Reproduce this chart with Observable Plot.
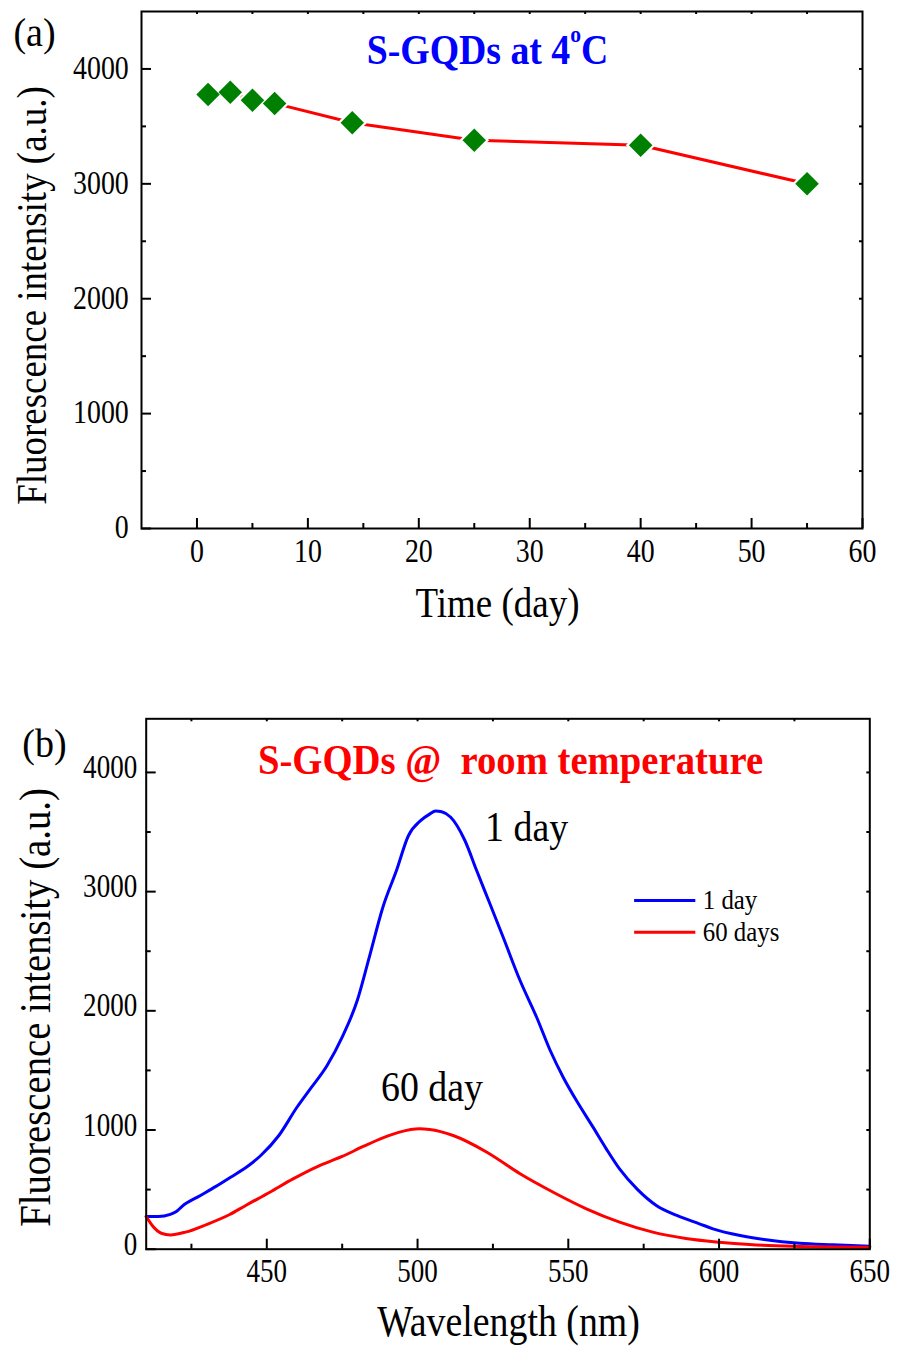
<!DOCTYPE html>
<html><head><meta charset="utf-8">
<script src="https://cdn.jsdelivr.net/npm/d3@7"></script>
<script src="https://cdn.jsdelivr.net/npm/@observablehq/plot@0.6"></script>
<style>
html,body{margin:0;padding:0;background:#fff;}
#chart svg{display:block;}
</style></head><body><div id="chart"></div>
<script>
// ---------- Panel (a): S-GQDs at 4 oC ----------
const days = [1, 3, 5, 7, 14, 25, 40, 55];
const intensityA = [3778, 3798, 3728, 3700, 3531, 3380, 3336, 3000];
const xMajorA = [0, 10, 20, 30, 40, 50, 60];
const xMinorA = [5, 15, 25, 35, 45, 55];
const yMajorA = [0, 1000, 2000, 3000, 4000];
const yMinorA = [500, 1500, 2500, 3500];
const titleA = ["S-GQDs at 4", "o", "C"];
const panelA = "(a)";
const xLabelA = "Time (day)";
const yLabel = "Fluorescence intensity (a.u.)";

// ---------- Panel (b): S-GQDs @ room temperature ----------
const wl1 = [410, 414, 418, 420, 422, 428, 433, 438, 444, 448, 454, 460, 464, 470, 475, 480, 484, 488.5, 493, 497, 501, 504, 506, 508, 511, 515.7, 519.6, 524, 528.4, 534, 539.5, 544, 548.3, 552.7, 558.2, 562.6, 567, 573, 579.2, 586, 593.5, 598, 607, 615.6, 626.7, 637.7, 650];
const int1 = [274, 274, 292, 316, 362, 451, 525, 604, 702, 786, 954, 1191, 1331, 1541, 1779, 2086, 2450, 2869, 3177, 3471, 3595, 3650, 3676, 3670, 3624, 3429, 3177, 2898, 2617, 2254, 1946, 1667, 1443, 1247, 1024, 842, 674, 500, 367, 283, 213, 171, 115, 79, 50, 37, 25];
const wl60 = [410, 412, 415, 418, 423, 430, 437.7, 443, 451, 458.7, 467.5, 475, 482, 488.5, 494, 500.6, 504, 511.8, 523, 534, 545, 556, 567, 578, 589, 600, 610, 624.4, 650];
const int60 = [274, 199, 134, 120, 143, 207, 291, 367, 478, 590, 702, 778, 862, 934, 982, 1010, 1004, 954, 814, 633, 478, 339, 227, 143, 90, 59, 39, 25, 17];
const xMajorB = [450, 500, 550, 600, 650];
const xMinorB = [425, 475, 525, 575, 625];
const yMajorB = [0, 1000, 2000, 3000, 4000];
const yMinorB = [500, 1500, 2500, 3500];
const titleB = "S-GQDs @\u00a0 room temperature";
const panelB = "(b)";
const xLabelB = "Wavelength (nm)";
const seriesNames = ["1 day", "60 days"];
const seriesColors = ["#0000ff", "#ff0000"];
const annoText = ["1 day", "60 day"];
const annoX = [522.4, 487.9];
const annoY = [3538, 1359];
// legend placement (in data units of panel b)
const legendX = [572, 592.3, 594.6];
const legendY = [2925, 2659];

const FONT = "'Liberation Serif', 'Times New Roman', serif";
const W = 898;
const tag = name => ({ariaLabel: () => name, ariaDescription: name});

// ---------- build panel (a) ----------
const dataA = days.map((d, i) => ({day: d, value: intensityA[i]}));
const hA = 650, mtA = 11, mbA = 122, mlA = 141, mrA = 36;
const fhA = hA - mtA - mbA, fwA = W - mlA - mrA;

const plotA = Plot.plot({
  width: W, height: hA,
  marginTop: mtA, marginBottom: mbA, marginLeft: mlA, marginRight: mrA,
  style: {fontFamily: FONT, background: "white", overflow: "visible"},
  x: {domain: [-5, 60], axis: null},
  y: {domain: [0, 4500], axis: null},
  marks: [
    Plot.line(dataA, {x: "day", y: "value", stroke: "#ff0000", strokeWidth: 3}),
    Plot.dot(dataA, {x: "day", y: "value", symbol: "diamond2", r: 13.4, fill: "white", stroke: "none"}),
    Plot.dot(dataA, {x: "day", y: "value", symbol: "diamond2", r: 10.6, fill: "#008000", stroke: "none"}),
    Plot.frame({stroke: "black", strokeWidth: 2}),
    Plot.tickX(xMajorA, {x: d => d, stroke: "black", strokeWidth: 2, insetTop: fhA - 10}),
    Plot.tickX(xMinorA, {x: d => d, stroke: "black", strokeWidth: 2, insetTop: fhA - 5}),
    Plot.tickX([...xMajorA, ...xMinorA].filter(d => d < 60), {x: d => d, stroke: "black", strokeWidth: 2, insetBottom: fhA - 3}),
    Plot.tickY(yMajorA, {y: d => d, stroke: "black", strokeWidth: 2, insetRight: fwA - 10}),
    Plot.tickY(yMinorA, {y: d => d, stroke: "black", strokeWidth: 2, insetRight: fwA - 5}),
    Plot.tickY([...yMajorA, ...yMinorA].filter(d => d > 0), {y: d => d, stroke: "black", strokeWidth: 2, insetLeft: fwA - 3}),
    Plot.text(xMajorA, {x: d => d, text: d => String(d), frameAnchor: "bottom", textAnchor: "middle", dy: 22.8, fontSize: 34, fontFamily: FONT, fill: "black", lineAnchor: "middle", ...tag("tick labels")}),
    Plot.text(yMajorA, {y: d => d, text: d => String(d), frameAnchor: "left", textAnchor: "end", dx: -12.7, dy: -1, fontSize: 34, fontFamily: FONT, fill: "black", lineAnchor: "middle", ...tag("tick labels")}),
    Plot.text([xLabelA], {text: d => d, frameAnchor: "bottom", textAnchor: "middle", dx: -4.5, dy: 74.9, fontSize: 43, fontFamily: FONT, fill: "black", lineAnchor: "middle", ...tag("axis label")}),
    Plot.text([yLabel], {text: d => d, frameAnchor: "left", textAnchor: "middle", rotate: -90, dx: -109.4, dy: 25.5, fontSize: 42, fontFamily: FONT, fill: "black", lineAnchor: "middle", ...tag("axis label y")}),
    Plot.text([panelA], {text: d => d, frameAnchor: "top-left", textAnchor: "middle", dx: -107, dy: 22, fontSize: 40, fontFamily: FONT, fill: "black", lineAnchor: "middle", ...tag("panel label")}),
    Plot.text([titleA.join("")], {text: d => d, frameAnchor: "top", textAnchor: "middle", dx: -14.5, dy: 38.9, fontSize: 42, fontWeight: "bold", fontFamily: FONT, fill: "#0000ff", lineAnchor: "middle", ...tag("title a")})
  ]
});

// ---------- build panel (b) ----------
const seriesB = [
  ...wl1.map((w, i) => ({wl: w, v: int1[i], s: seriesNames[0]})),
  ...wl60.map((w, i) => ({wl: w, v: int60[i], s: seriesNames[1]}))
];
const legendData = seriesNames.map((n, i) => ({name: n, color: seriesColors[i], y: legendY[i]}));
const annoData = annoText.map((t, i) => ({t, x: annoX[i], y: annoY[i]}));
const hB = 699, mtB = 68.3, mbB = 100.3, mlB = 145.7, mrB = 28.7;
const fhB = hB - mtB - mbB, fwB = W - mlB - mrB;

const plotB = Plot.plot({
  width: W, height: hB,
  marginTop: mtB, marginBottom: mbB, marginLeft: mlB, marginRight: mrB,
  style: {fontFamily: FONT, background: "white", overflow: "visible"},
  x: {domain: [410, 650], axis: null},
  y: {domain: [0, 4450], axis: null},
  color: {domain: seriesNames, range: seriesColors},
  marks: [
    Plot.line(seriesB, {x: "wl", y: "v", z: "s", stroke: "s", strokeWidth: 3, curve: "monotone-x"}),
    Plot.frame({stroke: "black", strokeWidth: 2}),
    Plot.tickX(xMajorB, {x: d => d, stroke: "black", strokeWidth: 2, insetTop: fhB - 10}),
    Plot.tickX(xMinorB, {x: d => d, stroke: "black", strokeWidth: 2, insetTop: fhB - 5}),
    Plot.tickX([...xMajorB, ...xMinorB].filter(d => d < 650), {x: d => d, stroke: "black", strokeWidth: 2, insetBottom: fhB - 3}),
    Plot.tickY(yMajorB, {y: d => d, stroke: "black", strokeWidth: 2, insetRight: fwB - 10}),
    Plot.tickY(yMinorB, {y: d => d, stroke: "black", strokeWidth: 2, insetRight: fwB - 5}),
    Plot.tickY([...yMajorB, ...yMinorB].filter(d => d > 0), {y: d => d, stroke: "black", strokeWidth: 2, insetLeft: fwB - 3}),
    Plot.text(xMajorB, {x: d => d, text: d => String(d), frameAnchor: "bottom", textAnchor: "middle", dy: 22.3, fontSize: 33, fontFamily: FONT, fill: "black", lineAnchor: "middle", ...tag("tick labels")}),
    Plot.text(yMajorB, {y: d => d, text: d => String(d), frameAnchor: "left", textAnchor: "end", dx: -9, dy: -5, fontSize: 33, fontFamily: FONT, fill: "black", lineAnchor: "middle", ...tag("tick labels")}),
    Plot.text([xLabelB], {text: d => d, frameAnchor: "bottom", textAnchor: "middle", dx: 0.5, dy: 72.3, fontSize: 44, fontFamily: FONT, fill: "black", lineAnchor: "middle", ...tag("axis label")}),
    Plot.text([yLabel], {text: d => d, frameAnchor: "left", textAnchor: "middle", rotate: -90, dx: -109.8, dy: 23.5, fontSize: 44, fontFamily: FONT, fill: "black", lineAnchor: "middle", ...tag("axis label y")}),
    Plot.text([panelB], {text: d => d, frameAnchor: "top-left", textAnchor: "middle", dx: -101.7, dy: 24.9, fontSize: 40, fontFamily: FONT, fill: "black", lineAnchor: "middle", ...tag("panel label")}),
    Plot.text([titleB], {text: d => d, frameAnchor: "top", textAnchor: "middle", dx: 2.5, dy: 41.9, fontSize: 43, fontWeight: "bold", fontFamily: FONT, fill: "#ff0000", lineAnchor: "middle", ...tag("title b")}),
    Plot.text(annoData, {x: "x", y: "y", text: "t", textAnchor: "start", fontSize: 43, fontFamily: FONT, fill: "black", lineAnchor: "middle", ...tag("annotation")}),
    Plot.ruleY(legendData, {y: "y", x1: legendX[0], x2: legendX[1], stroke: "color", strokeWidth: 3}),
    Plot.text(legendData, {x: legendX[2], y: "y", text: "name", textAnchor: "start", fontSize: 27, fontFamily: FONT, fill: "black", lineAnchor: "middle", ...tag("legend")})
  ]
});

// ---------- typographic touches: condensed serif glyphs as in the original ----------
const condenseMap = {"tick labels": 0.82, "axis label": 0.86, "axis label y": 0.88, "panel label": 0.95, "title a": 0.9, "title b": 0.9, "annotation": 0.88, "legend": 0.92};
function targets(svg, label) {
  const out = new Set();
  svg.querySelectorAll("[aria-label], [aria-description]").forEach(el => {
    if (el.getAttribute("aria-label") !== label && el.getAttribute("aria-description") !== label) return;
    if (el.tagName.toLowerCase() === "text") out.add(el);
    else el.querySelectorAll("text").forEach(t => out.add(t));
  });
  return [...out];
}
function condense(svg) {
  for (const [label, s] of Object.entries(condenseMap)) {
    targets(svg, label).forEach(t => {
      const tr = t.getAttribute("transform");
      if (tr) t.setAttribute("transform", tr + ` scale(${s},1)`);
      else {
        const x = +t.getAttribute("x") || 0, y = +t.getAttribute("y") || 0;
        t.setAttribute("transform", `translate(${x},${y}) scale(${s},1) translate(${-x},${-y})`);
      }
    });
  }
}
function superscript(svg, label, parts, supSize, rise) {
  const t = targets(svg, label)[0];
  if (!t) return;
  const ns = "http://www.w3.org/2000/svg";
  t.textContent = "";
  const a = document.createElementNS(ns, "tspan"); a.textContent = parts[0]; t.appendChild(a);
  const b = document.createElementNS(ns, "tspan"); b.textContent = parts[1];
  b.setAttribute("font-size", supSize); b.setAttribute("dy", -rise); t.appendChild(b);
  const c = document.createElementNS(ns, "tspan"); c.textContent = parts[2];
  c.setAttribute("dy", rise); t.appendChild(c);
}
superscript(plotA, "title a", titleA, 24, 22);
condense(plotA);
condense(plotB);

const chart = document.getElementById("chart");
chart.appendChild(plotA);
chart.appendChild(plotB);
</script></body></html>
